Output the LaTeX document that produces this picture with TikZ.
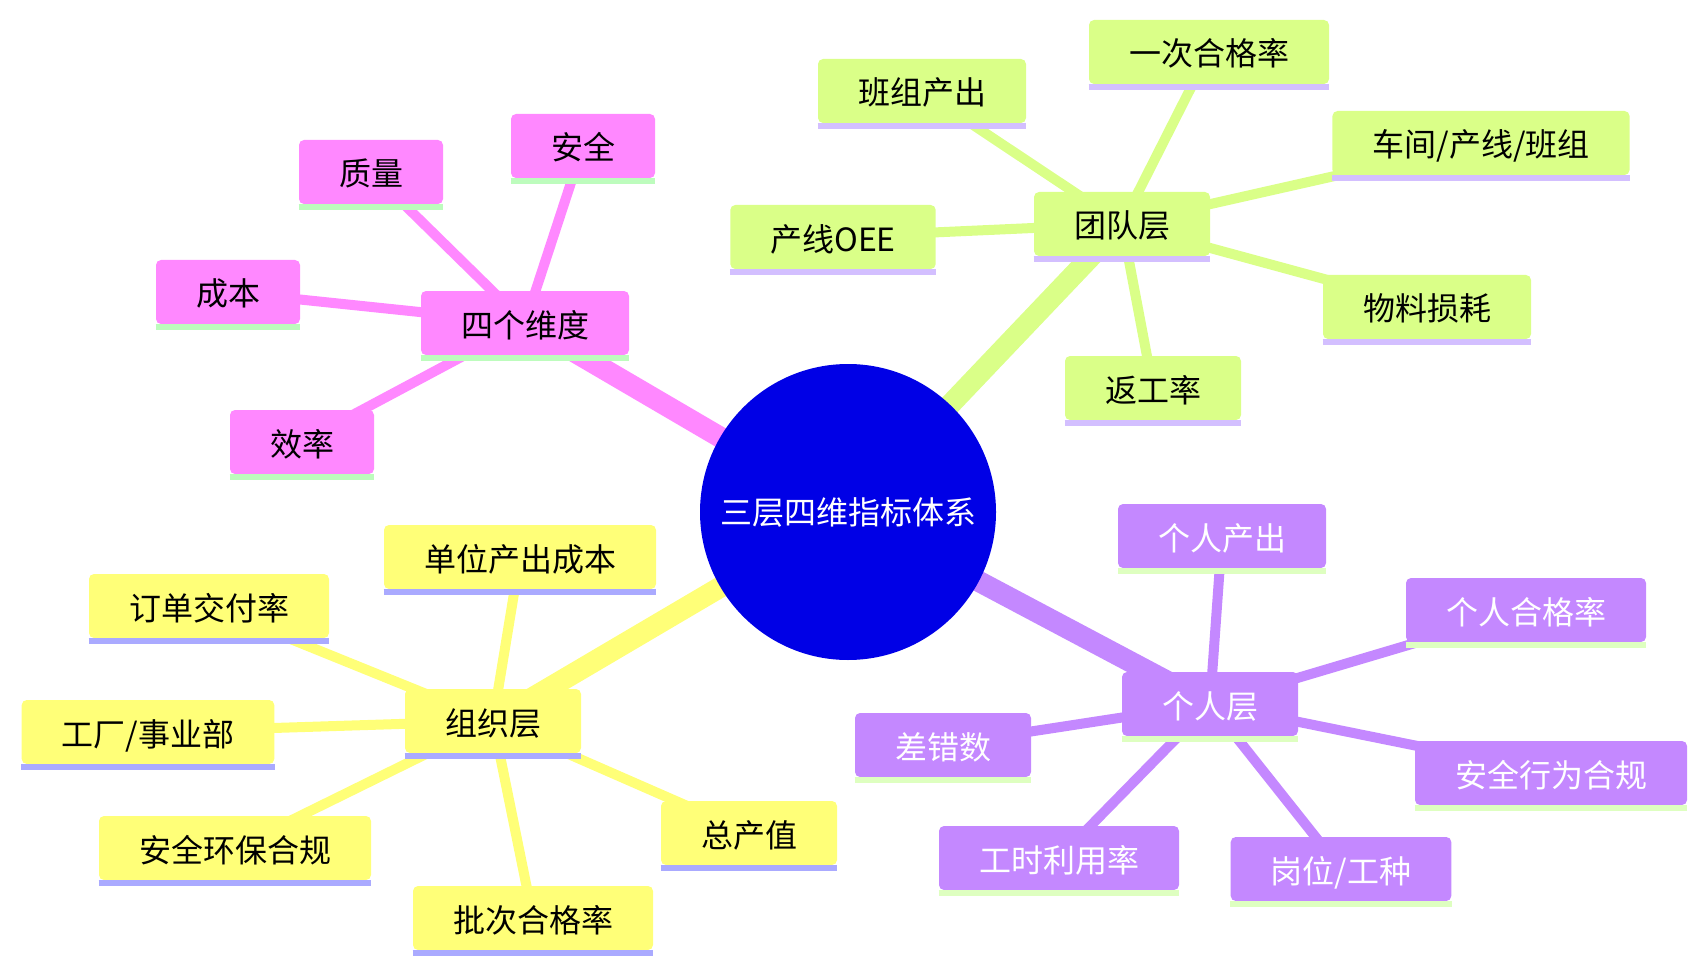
\documentclass[tikz,border=0pt]{standalone}
\usepackage{fontspec}
\setmainfont{Noto Sans CJK SC}
\usetikzlibrary{backgrounds}
\definecolor{rootblue}{HTML}{0000E6}
\definecolor{pinkc}{HTML}{FF88FF}
\definecolor{pinkline}{HTML}{BDFCBD}
\definecolor{limec}{HTML}{DAFF88}
\definecolor{limeline}{HTML}{D3BFFF}
\definecolor{purplec}{HTML}{C488FF}
\definecolor{purpleline}{HTML}{DEFFC0}
\definecolor{yellowc}{HTML}{FFFF78}
\definecolor{yellowline}{HTML}{AAAAFF}

\begin{document}
\begin{tikzpicture}[
  x=0.5pt, y=-0.5pt,
  font=\fontsize{16}{19}\selectfont,
  root/.style={circle, fill=rootblue, text=white, minimum size=148pt, inner sep=0pt},
  topic/.style={fill=#1, rounded corners=2.5pt, inner xsep=20pt, inner ysep=0pt,
    text height=14pt, text depth=0pt, minimum height=32pt},
  trunk/.style={line width=10.5pt},
  twig/.style={line width=5pt},
  bar/.style={line width=3pt}
]
  \useasboundingbox (0,0) rectangle (1707,973);

  \node[root] (system) at (848,512) {三层四维指标体系};

  % 四个维度
  \node[topic=pinkc] (dims) at (525,323) {四个维度};
  \node[topic=pinkc] (safety) at (583,146) {安全};
  \node[topic=pinkc] (quality) at (371,172) {质量};
  \node[topic=pinkc] (cost) at (228,292) {成本};
  \node[topic=pinkc] (effic) at (302,442) {效率};

  % 团队层
  \node[topic=limec] (team) at (1122,224) {团队层};
  \node[topic=limec] (firstpass) at (1209,52) {一次合格率};
  \node[topic=limec] (crewout) at (922,91) {班组产出};
  \node[topic=limec] (workshop) at (1481,143) {车间/产线/班组};
  \node[topic=limec] (oee) at (833,237) {产线OEE};
  \node[topic=limec] (material) at (1427,307) {物料损耗};
  \node[topic=limec] (rework) at (1153,388) {返工率};

  % 个人层
  \node[topic=purplec, text=white] (person) at (1210,704) {个人层};
  \node[topic=purplec, text=white] (ownout) at (1222,536) {个人产出};
  \node[topic=purplec, text=white] (ownpass) at (1526,610) {个人合格率};
  \node[topic=purplec, text=white] (errors) at (943,745) {差错数};
  \node[topic=purplec, text=white] (behave) at (1551,773) {安全行为合规};
  \node[topic=purplec, text=white] (hours) at (1059,858) {工时利用率};
  \node[topic=purplec, text=white] (post) at (1341,869) {岗位/工种};

  % 组织层
  \node[topic=yellowc] (org) at (493,721) {组织层};
  \node[topic=yellowc] (unitcost) at (520,557) {单位产出成本};
  \node[topic=yellowc] (delivery) at (209,606) {订单交付率};
  \node[topic=yellowc] (plant) at (148,732) {工厂/事业部};
  \node[topic=yellowc] (envsafe) at (235,848) {安全环保合规};
  \node[topic=yellowc] (batch) at (533,918) {批次合格率};
  \node[topic=yellowc] (output) at (749,833) {总产值};

  \foreach \n/\c in {dims/pinkline, safety/pinkline, quality/pinkline, cost/pinkline,
      effic/pinkline, team/limeline, firstpass/limeline, crewout/limeline,
      workshop/limeline, oee/limeline, material/limeline, rework/limeline,
      person/purpleline, ownout/purpleline, ownpass/purpleline, errors/purpleline,
      behave/purpleline, hours/purpleline, post/purpleline, org/yellowline,
      unitcost/yellowline, delivery/yellowline, plant/yellowline,
      envsafe/yellowline, batch/yellowline, output/yellowline}
    \draw[bar, \c] ([yshift=-1.5pt]\n.south west) -- ([yshift=-1.5pt]\n.south east);

  \begin{scope}[on background layer]
    \draw[trunk, pinkc] (system.center) -- (dims.center);
    \draw[trunk, limec] (system.center) -- (team.center);
    \draw[trunk, purplec] (system.center) -- (person.center);
    \draw[trunk, yellowc] (system.center) -- (org.center);
    \foreach \n in {safety, quality, cost, effic}
      \draw[twig, pinkc] (dims.center) -- (\n.center);
    \foreach \n in {firstpass, crewout, workshop, oee, material, rework}
      \draw[twig, limec] (team.center) -- (\n.center);
    \foreach \n in {ownout, ownpass, errors, behave, hours, post}
      \draw[twig, purplec] (person.center) -- (\n.center);
    \foreach \n in {unitcost, delivery, plant, envsafe, batch, output}
      \draw[twig, yellowc] (org.center) -- (\n.center);
  \end{scope}
\end{tikzpicture}
\end{document}
